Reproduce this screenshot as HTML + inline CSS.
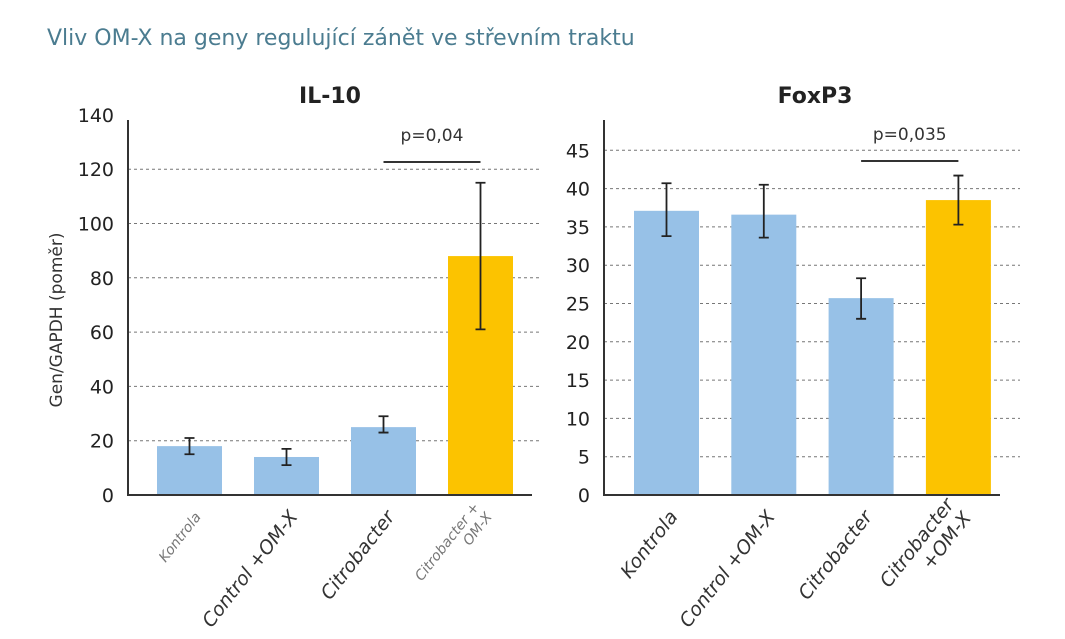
<!DOCTYPE html>
<html><head><meta charset="utf-8"><style>
html,body{margin:0;padding:0;background:#fff;width:1065px;height:639px;overflow:hidden}
svg text{font-family:"DejaVu Sans","Liberation Sans",sans-serif}
</style></head><body>
<svg id="c" width="1065" height="639" viewBox="0 0 1065 639">
<text x="47" y="45" font-size="22" fill="#4b7c90">Vliv OM-X na geny regulující zánět ve střevním traktu</text>
<text x="62" y="320" font-size="17" fill="#333" text-anchor="middle" transform="rotate(-90 62 320)">Gen/GAPDH (poměr)</text>
<g id="p1"></g>
<g id="p2"></g>
</svg>
<script>
const categories=["Kontrola","Control +OM-X","Citrobacter","Citrobacter + OM-X"];
const il10Values=[18,14,25,88];
const il10Low=[15,11,23,61];
const il10High=[21,17,29,115];
const il10Ticks=[0,20,40,60,80,100,120,140];
const foxValues=[37.1,36.6,25.7,38.5];
const foxLow=[33.8,33.6,23.0,35.3];
const foxHigh=[40.7,40.5,28.3,41.7];
const foxTicks=[0,5,10,15,20,25,30,35,40,45];
const NS="http://www.w3.org/2000/svg";
function mk(p,t,a){const e=document.createElementNS(NS,t);for(const k in a)e.setAttribute(k,a[k]);p.appendChild(e);return e;}
function panel(g,cfg){
  const y=v=>cfg.y0-(v-0)*cfg.ppu;
  const x=i=>cfg.bx0+i*cfg.step;
  cfg.ticks.forEach(t=>{
    if(t>0&&t<=cfg.gridMax){const l=mk(g,'line',{x1:cfg.ax,x2:cfg.gx2,y1:y(t),y2:y(t),stroke:'#777','stroke-width':1,'stroke-dasharray':'3,3'});
    }
    const tx=mk(g,'text',{x:cfg.ax-14,y:y(t)+7,'font-size':19,'text-anchor':'end',fill:'#222'});tx.textContent=t;
    
  });
  cfg.vals.forEach((v,i)=>{
    const r=mk(g,'rect',{x:x(i),y:y(v),width:cfg.bw,height:cfg.y0-y(v),fill:i==3?'#fcc300':'#97c1e7'});
    
    const cx=x(i)+cfg.bw/2;
    const e=mk(g,'path',{d:`M${cx-5},${y(cfg.hi[i])}H${cx+5}M${cx},${y(cfg.hi[i])}V${y(cfg.lo[i])}M${cx-5},${y(cfg.lo[i])}H${cx+5}`,stroke:'#222','stroke-width':1.8,fill:'none'});
    
  });
  const ax=mk(g,'path',{d:`M${cfg.ax},120V${cfg.y0}H${cfg.axEnd}`,stroke:'#333','stroke-width':2,fill:'none'});
  
  const tt=mk(g,'text',{x:cfg.tx,y:103,'font-size':22,'font-weight':'bold','text-anchor':'middle',fill:'#222'});tt.textContent=cfg.title;
  
  const br=mk(g,'line',{x1:x(2)+cfg.bw/2,x2:x(3)+cfg.bw/2,y1:cfg.by,y2:cfg.by,stroke:'#333','stroke-width':2});
  
  const pt=mk(g,'text',{x:(x(2)+x(3))/2+cfg.bw/2,y:cfg.by-21,'font-size':17,'text-anchor':'middle',fill:'#333'});pt.textContent=cfg.p;
  
  categories.forEach((c,i)=>{
    const cx=x(i)+cfg.bw/2+12, cy=cfg.y0+22;
    const small=cfg.small[i];
    const t=mk(g,'text',{x:cx,y:cy,'font-size':small?14:19,'font-style':'italic','text-anchor':'end',fill:small?'#777':'#333',transform:`rotate(-52 ${cx} ${cy})`});
    
    const lines=cfg.lines[i];
    if(lines.length==1)t.textContent=lines[0];
    else lines.forEach((s,k)=>{const ts=mk(t,'tspan',{x:cx,dy:k==0?-(small?16:20):(small?16:22)});ts.textContent=s;});
  });
}
panel(document.getElementById('p1'),{y0:495,ppu:54.3/20,bx0:157,step:97,bw:65,ax:128,gx2:540,axEnd:532,gridMax:120,ticks:il10Ticks,vals:il10Values,lo:il10Low,hi:il10High,title:'IL-10',tx:330,by:162,p:'p=0,04',
 small:[true,false,false,true],lines:[["Kontrola"],["Control +OM-X"],["Citrobacter"],["Citrobacter +","OM-X"]]});
panel(document.getElementById('p2'),{y0:495,ppu:38.3/5,bx0:634,step:97.3,bw:65,ax:604,gx2:1020,axEnd:1000,gridMax:45,ticks:foxTicks,vals:foxValues,lo:foxLow,hi:foxHigh,title:'FoxP3',tx:815,by:161,p:'p=0,035',
 small:[false,false,false,false],lines:[["Kontrola"],["Control +OM-X"],["Citrobacter"],["Citrobacter","+OM-X"]]});
</script>
</body></html>
